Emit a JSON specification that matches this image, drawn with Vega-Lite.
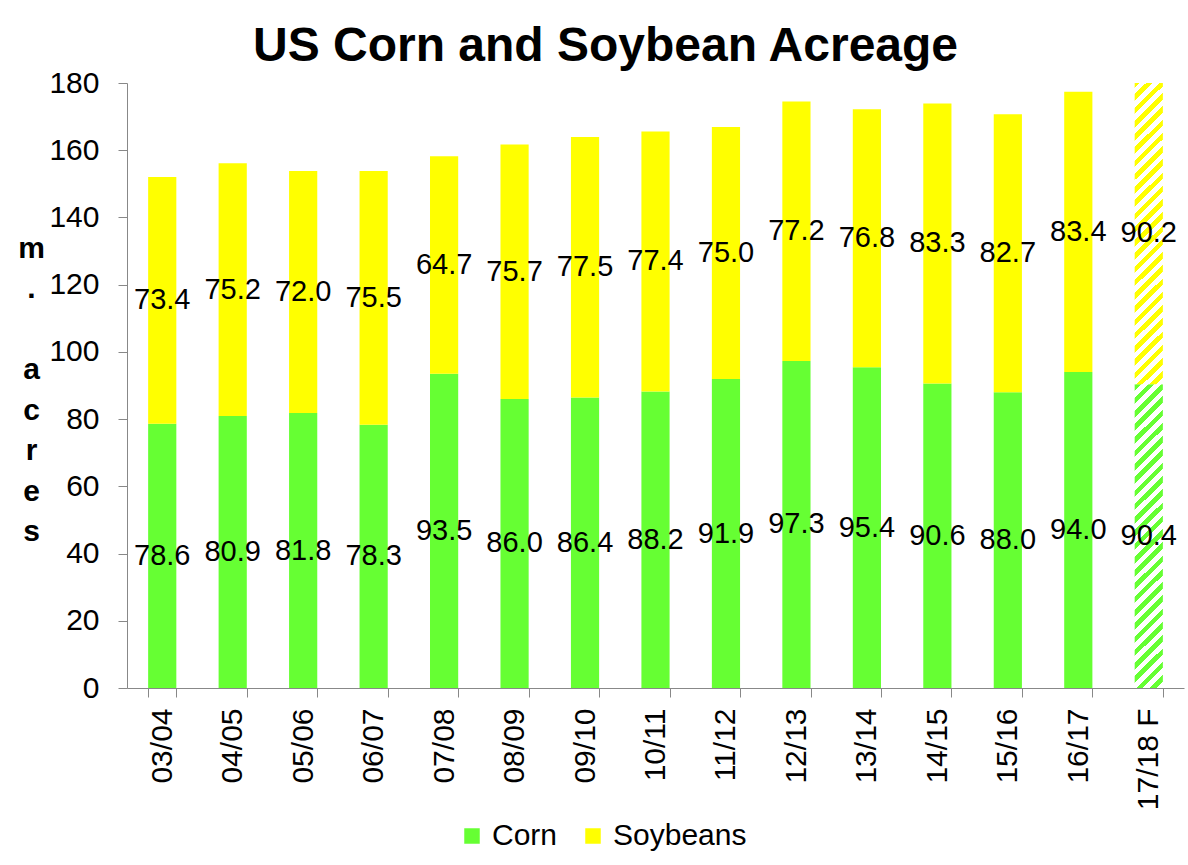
{
  "$schema": "https://vega.github.io/schema/vega-lite/v6.json",
  "width": 1057,
  "height": 605,
  "autosize": {"type": "none"},
  "padding": {"left": 127, "top": 83, "right": 4, "bottom": 177},
  "config": {"font": "Liberation Sans", "view": {"stroke": null}},
  "title": {"text": "US Corn and Soybean Acreage", "fontSize": 48, "fontWeight": "bold", "color": "black", "anchor": "middle", "dx": -50, "dy": 51, "offset": 10, "baseline": "alphabetic"},
  "data": {"values": [
    {"season": "03/04", "crop": "Corn", "value": 78.6, "forecast": false},
    {"season": "03/04", "crop": "Soybeans", "value": 73.4, "forecast": false},
    {"season": "04/05", "crop": "Corn", "value": 80.9, "forecast": false},
    {"season": "04/05", "crop": "Soybeans", "value": 75.2, "forecast": false},
    {"season": "05/06", "crop": "Corn", "value": 81.8, "forecast": false},
    {"season": "05/06", "crop": "Soybeans", "value": 72.0, "forecast": false},
    {"season": "06/07", "crop": "Corn", "value": 78.3, "forecast": false},
    {"season": "06/07", "crop": "Soybeans", "value": 75.5, "forecast": false},
    {"season": "07/08", "crop": "Corn", "value": 93.5, "forecast": false},
    {"season": "07/08", "crop": "Soybeans", "value": 64.7, "forecast": false},
    {"season": "08/09", "crop": "Corn", "value": 86.0, "forecast": false},
    {"season": "08/09", "crop": "Soybeans", "value": 75.7, "forecast": false},
    {"season": "09/10", "crop": "Corn", "value": 86.4, "forecast": false},
    {"season": "09/10", "crop": "Soybeans", "value": 77.5, "forecast": false},
    {"season": "10/11", "crop": "Corn", "value": 88.2, "forecast": false},
    {"season": "10/11", "crop": "Soybeans", "value": 77.4, "forecast": false},
    {"season": "11/12", "crop": "Corn", "value": 91.9, "forecast": false},
    {"season": "11/12", "crop": "Soybeans", "value": 75.0, "forecast": false},
    {"season": "12/13", "crop": "Corn", "value": 97.3, "forecast": false},
    {"season": "12/13", "crop": "Soybeans", "value": 77.2, "forecast": false},
    {"season": "13/14", "crop": "Corn", "value": 95.4, "forecast": false},
    {"season": "13/14", "crop": "Soybeans", "value": 76.8, "forecast": false},
    {"season": "14/15", "crop": "Corn", "value": 90.6, "forecast": false},
    {"season": "14/15", "crop": "Soybeans", "value": 83.3, "forecast": false},
    {"season": "15/16", "crop": "Corn", "value": 88.0, "forecast": false},
    {"season": "15/16", "crop": "Soybeans", "value": 82.7, "forecast": false},
    {"season": "16/17", "crop": "Corn", "value": 94.0, "forecast": false},
    {"season": "16/17", "crop": "Soybeans", "value": 83.4, "forecast": false},
    {"season": "17/18 F", "crop": "Corn", "value": 90.4, "forecast": true},
    {"season": "17/18 F", "crop": "Soybeans", "value": 90.2, "forecast": true}
  ]},
  "encoding": {
    "x": {
      "field": "season", "type": "nominal", "sort": null,
      "scale": {"paddingInner": 0.6, "paddingOuter": 0.3},
      "axis": {"title": null, "labelAngle": -90, "labelFontSize": 30, "labelColor": "black", "labelPadding": 11, "tickSize": 9, "tickBand": "extent", "tickColor": "#888888", "domainColor": "#888888", "grid": false}
    }
  },
  "layer": [
    {
      "transform": [{"filter": "datum.forecast == false"}],
      "mark": {"type": "bar"},
      "encoding": {
        "y": {
          "field": "value", "type": "quantitative", "stack": "zero",
          "scale": {"domain": [0, 180]},
          "axis": {
            "values": [0, 20, 40, 60, 80, 100, 120, 140, 160, 180],
            "grid": false, "labelFontSize": 30, "labelColor": "black", "labelPadding": 19, "tickSize": 9,
            "tickColor": "#888888", "domainColor": "#888888",
            "title": ["m", ".", "\u2800", "a", "c", "r", "e", "s"],
            "titleAngle": 0, "titleAlign": "center", "titleBaseline": "alphabetic", "titleFontSize": 30, "titleFontWeight": "bold", "titleColor": "black", "titleLineHeight": 40.5, "titleX": -96, "titleY": 174
          }
        },
        "color": {
          "field": "crop", "type": "nominal",
          "scale": {"domain": ["Corn", "Soybeans"], "range": ["#66ff33", "#ffff00"]},
          "legend": {"title": null, "orient": "none", "legendX": 330, "legendY": 738, "direction": "horizontal", "symbolType": "square", "symbolSize": 240, "symbolStrokeWidth": 0, "labelFontSize": 30, "labelColor": "black", "labelOffset": 5, "columnPadding": 20}
        },
        "order": {"field": "crop"}
      }
    },
    {
      "transform": [
        {"filter": "datum.forecast == true"},
        {"stack": "value", "groupby": ["season"], "sort": [{"field": "crop", "order": "ascending"}], "as": ["v0", "v1"]}
      ],
      "layer": [
        {
          "transform": [{"filter": "datum.crop == 'Corn'"}],
          "mark": {"type": "bar", "clip": true, "fill": {"gradient": "linear", "x1": 0, "y1": 0, "x2": 0.0997, "y2": 1.0829, "stops": [
            {"offset": 0, "color": "#66ff33"}, {"offset": 0.02, "color": "#66ff33"}, {"offset": 0.02, "color": "#ffffff"}, {"offset": 0.04, "color": "#ffffff"},
            {"offset": 0.04, "color": "#66ff33"}, {"offset": 0.06, "color": "#66ff33"}, {"offset": 0.06, "color": "#ffffff"}, {"offset": 0.08, "color": "#ffffff"},
            {"offset": 0.08, "color": "#66ff33"}, {"offset": 0.10, "color": "#66ff33"}, {"offset": 0.10, "color": "#ffffff"}, {"offset": 0.12, "color": "#ffffff"},
            {"offset": 0.12, "color": "#66ff33"}, {"offset": 0.14, "color": "#66ff33"}, {"offset": 0.14, "color": "#ffffff"}, {"offset": 0.16, "color": "#ffffff"},
            {"offset": 0.16, "color": "#66ff33"}, {"offset": 0.18, "color": "#66ff33"}, {"offset": 0.18, "color": "#ffffff"}, {"offset": 0.20, "color": "#ffffff"},
            {"offset": 0.20, "color": "#66ff33"}, {"offset": 0.22, "color": "#66ff33"}, {"offset": 0.22, "color": "#ffffff"}, {"offset": 0.24, "color": "#ffffff"},
            {"offset": 0.24, "color": "#66ff33"}, {"offset": 0.26, "color": "#66ff33"}, {"offset": 0.26, "color": "#ffffff"}, {"offset": 0.28, "color": "#ffffff"},
            {"offset": 0.28, "color": "#66ff33"}, {"offset": 0.30, "color": "#66ff33"}, {"offset": 0.30, "color": "#ffffff"}, {"offset": 0.32, "color": "#ffffff"},
            {"offset": 0.32, "color": "#66ff33"}, {"offset": 0.34, "color": "#66ff33"}, {"offset": 0.34, "color": "#ffffff"}, {"offset": 0.36, "color": "#ffffff"},
            {"offset": 0.36, "color": "#66ff33"}, {"offset": 0.38, "color": "#66ff33"}, {"offset": 0.38, "color": "#ffffff"}, {"offset": 0.40, "color": "#ffffff"},
            {"offset": 0.40, "color": "#66ff33"}, {"offset": 0.42, "color": "#66ff33"}, {"offset": 0.42, "color": "#ffffff"}, {"offset": 0.44, "color": "#ffffff"},
            {"offset": 0.44, "color": "#66ff33"}, {"offset": 0.46, "color": "#66ff33"}, {"offset": 0.46, "color": "#ffffff"}, {"offset": 0.48, "color": "#ffffff"},
            {"offset": 0.48, "color": "#66ff33"}, {"offset": 0.50, "color": "#66ff33"}, {"offset": 0.50, "color": "#ffffff"}, {"offset": 0.52, "color": "#ffffff"},
            {"offset": 0.52, "color": "#66ff33"}, {"offset": 0.54, "color": "#66ff33"}, {"offset": 0.54, "color": "#ffffff"}, {"offset": 0.56, "color": "#ffffff"},
            {"offset": 0.56, "color": "#66ff33"}, {"offset": 0.58, "color": "#66ff33"}, {"offset": 0.58, "color": "#ffffff"}, {"offset": 0.60, "color": "#ffffff"},
            {"offset": 0.60, "color": "#66ff33"}, {"offset": 0.62, "color": "#66ff33"}, {"offset": 0.62, "color": "#ffffff"}, {"offset": 0.64, "color": "#ffffff"},
            {"offset": 0.64, "color": "#66ff33"}, {"offset": 0.66, "color": "#66ff33"}, {"offset": 0.66, "color": "#ffffff"}, {"offset": 0.68, "color": "#ffffff"},
            {"offset": 0.68, "color": "#66ff33"}, {"offset": 0.70, "color": "#66ff33"}, {"offset": 0.70, "color": "#ffffff"}, {"offset": 0.72, "color": "#ffffff"},
            {"offset": 0.72, "color": "#66ff33"}, {"offset": 0.74, "color": "#66ff33"}, {"offset": 0.74, "color": "#ffffff"}, {"offset": 0.76, "color": "#ffffff"},
            {"offset": 0.76, "color": "#66ff33"}, {"offset": 0.78, "color": "#66ff33"}, {"offset": 0.78, "color": "#ffffff"}, {"offset": 0.80, "color": "#ffffff"},
            {"offset": 0.80, "color": "#66ff33"}, {"offset": 0.82, "color": "#66ff33"}, {"offset": 0.82, "color": "#ffffff"}, {"offset": 0.84, "color": "#ffffff"},
            {"offset": 0.84, "color": "#66ff33"}, {"offset": 0.86, "color": "#66ff33"}, {"offset": 0.86, "color": "#ffffff"}, {"offset": 0.88, "color": "#ffffff"},
            {"offset": 0.88, "color": "#66ff33"}, {"offset": 0.90, "color": "#66ff33"}, {"offset": 0.90, "color": "#ffffff"}, {"offset": 0.92, "color": "#ffffff"},
            {"offset": 0.92, "color": "#66ff33"}, {"offset": 0.94, "color": "#66ff33"}, {"offset": 0.94, "color": "#ffffff"}, {"offset": 0.96, "color": "#ffffff"},
            {"offset": 0.96, "color": "#66ff33"}, {"offset": 0.98, "color": "#66ff33"}, {"offset": 0.98, "color": "#ffffff"}, {"offset": 1, "color": "#ffffff"}
          ]}},
          "encoding": {"y": {"field": "v0", "type": "quantitative"}, "y2": {"field": "v1"}}
        },
        {
          "transform": [{"filter": "datum.crop == 'Soybeans'"}],
          "mark": {"type": "bar", "clip": true, "fill": {"gradient": "linear", "x1": 0, "y1": 0, "x2": 0.0997, "y2": 1.0829, "stops": [
            {"offset": 0, "color": "#ffff00"}, {"offset": 0.02, "color": "#ffff00"}, {"offset": 0.02, "color": "#ffffff"}, {"offset": 0.04, "color": "#ffffff"},
            {"offset": 0.04, "color": "#ffff00"}, {"offset": 0.06, "color": "#ffff00"}, {"offset": 0.06, "color": "#ffffff"}, {"offset": 0.08, "color": "#ffffff"},
            {"offset": 0.08, "color": "#ffff00"}, {"offset": 0.10, "color": "#ffff00"}, {"offset": 0.10, "color": "#ffffff"}, {"offset": 0.12, "color": "#ffffff"},
            {"offset": 0.12, "color": "#ffff00"}, {"offset": 0.14, "color": "#ffff00"}, {"offset": 0.14, "color": "#ffffff"}, {"offset": 0.16, "color": "#ffffff"},
            {"offset": 0.16, "color": "#ffff00"}, {"offset": 0.18, "color": "#ffff00"}, {"offset": 0.18, "color": "#ffffff"}, {"offset": 0.20, "color": "#ffffff"},
            {"offset": 0.20, "color": "#ffff00"}, {"offset": 0.22, "color": "#ffff00"}, {"offset": 0.22, "color": "#ffffff"}, {"offset": 0.24, "color": "#ffffff"},
            {"offset": 0.24, "color": "#ffff00"}, {"offset": 0.26, "color": "#ffff00"}, {"offset": 0.26, "color": "#ffffff"}, {"offset": 0.28, "color": "#ffffff"},
            {"offset": 0.28, "color": "#ffff00"}, {"offset": 0.30, "color": "#ffff00"}, {"offset": 0.30, "color": "#ffffff"}, {"offset": 0.32, "color": "#ffffff"},
            {"offset": 0.32, "color": "#ffff00"}, {"offset": 0.34, "color": "#ffff00"}, {"offset": 0.34, "color": "#ffffff"}, {"offset": 0.36, "color": "#ffffff"},
            {"offset": 0.36, "color": "#ffff00"}, {"offset": 0.38, "color": "#ffff00"}, {"offset": 0.38, "color": "#ffffff"}, {"offset": 0.40, "color": "#ffffff"},
            {"offset": 0.40, "color": "#ffff00"}, {"offset": 0.42, "color": "#ffff00"}, {"offset": 0.42, "color": "#ffffff"}, {"offset": 0.44, "color": "#ffffff"},
            {"offset": 0.44, "color": "#ffff00"}, {"offset": 0.46, "color": "#ffff00"}, {"offset": 0.46, "color": "#ffffff"}, {"offset": 0.48, "color": "#ffffff"},
            {"offset": 0.48, "color": "#ffff00"}, {"offset": 0.50, "color": "#ffff00"}, {"offset": 0.50, "color": "#ffffff"}, {"offset": 0.52, "color": "#ffffff"},
            {"offset": 0.52, "color": "#ffff00"}, {"offset": 0.54, "color": "#ffff00"}, {"offset": 0.54, "color": "#ffffff"}, {"offset": 0.56, "color": "#ffffff"},
            {"offset": 0.56, "color": "#ffff00"}, {"offset": 0.58, "color": "#ffff00"}, {"offset": 0.58, "color": "#ffffff"}, {"offset": 0.60, "color": "#ffffff"},
            {"offset": 0.60, "color": "#ffff00"}, {"offset": 0.62, "color": "#ffff00"}, {"offset": 0.62, "color": "#ffffff"}, {"offset": 0.64, "color": "#ffffff"},
            {"offset": 0.64, "color": "#ffff00"}, {"offset": 0.66, "color": "#ffff00"}, {"offset": 0.66, "color": "#ffffff"}, {"offset": 0.68, "color": "#ffffff"},
            {"offset": 0.68, "color": "#ffff00"}, {"offset": 0.70, "color": "#ffff00"}, {"offset": 0.70, "color": "#ffffff"}, {"offset": 0.72, "color": "#ffffff"},
            {"offset": 0.72, "color": "#ffff00"}, {"offset": 0.74, "color": "#ffff00"}, {"offset": 0.74, "color": "#ffffff"}, {"offset": 0.76, "color": "#ffffff"},
            {"offset": 0.76, "color": "#ffff00"}, {"offset": 0.78, "color": "#ffff00"}, {"offset": 0.78, "color": "#ffffff"}, {"offset": 0.80, "color": "#ffffff"},
            {"offset": 0.80, "color": "#ffff00"}, {"offset": 0.82, "color": "#ffff00"}, {"offset": 0.82, "color": "#ffffff"}, {"offset": 0.84, "color": "#ffffff"},
            {"offset": 0.84, "color": "#ffff00"}, {"offset": 0.86, "color": "#ffff00"}, {"offset": 0.86, "color": "#ffffff"}, {"offset": 0.88, "color": "#ffffff"},
            {"offset": 0.88, "color": "#ffff00"}, {"offset": 0.90, "color": "#ffff00"}, {"offset": 0.90, "color": "#ffffff"}, {"offset": 0.92, "color": "#ffffff"},
            {"offset": 0.92, "color": "#ffff00"}, {"offset": 0.94, "color": "#ffff00"}, {"offset": 0.94, "color": "#ffffff"}, {"offset": 0.96, "color": "#ffffff"},
            {"offset": 0.96, "color": "#ffff00"}, {"offset": 0.98, "color": "#ffff00"}, {"offset": 0.98, "color": "#ffffff"}, {"offset": 1, "color": "#ffffff"}
          ]}},
          "encoding": {"y": {"field": "v0", "type": "quantitative"}, "y2": {"field": "v1"}}
        }
      ]
    },
    {
      "mark": {"type": "text", "fontSize": 29, "color": "black"},
      "encoding": {
        "y": {"field": "value", "type": "quantitative", "stack": "zero", "bandPosition": 0.5},
        "detail": {"field": "crop"},
        "order": {"field": "crop"},
        "text": {"field": "value", "type": "quantitative", "format": ".1f"}
      }
    }
  ]
}
